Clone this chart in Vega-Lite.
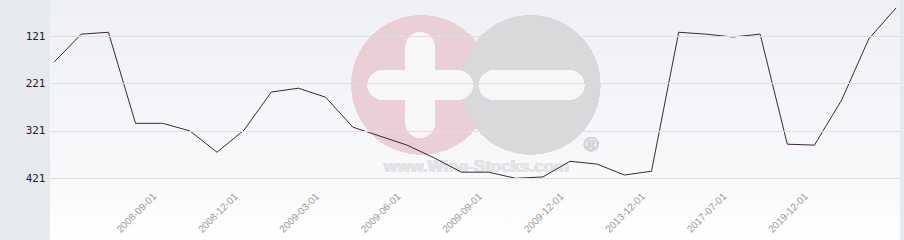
{
  "$schema": "https://vega.github.io/schema/vega-lite/v6.json",
  "autosize": "none",
  "width": 850,
  "height": 240,
  "padding": {"left": 50, "right": 4, "top": 0, "bottom": 0},
  "background": "#e7eaed",
  "config": {
    "view": {"stroke": null, "fill": {"gradient": "linear", "x1": 0, "y1": 0, "x2": 0, "y2": 1, "stops": [{"offset": 0, "color": "#eef0f5"}, {"offset": 0.75, "color": "#f9f9fb"}, {"offset": 1, "color": "#ffffff"}]}}
  },
  "data": {
    "values": [
      {"date": "2008-05-01", "rank": 176},
      {"date": "2008-06-01", "rank": 117},
      {"date": "2008-07-01", "rank": 113},
      {"date": "2008-08-01", "rank": 305},
      {"date": "2008-09-01", "rank": 305},
      {"date": "2008-10-01", "rank": 321},
      {"date": "2008-11-01", "rank": 366},
      {"date": "2008-12-01", "rank": 319},
      {"date": "2009-01-01", "rank": 239},
      {"date": "2009-02-01", "rank": 231},
      {"date": "2009-03-01", "rank": 250},
      {"date": "2009-04-01", "rank": 313},
      {"date": "2009-05-01", "rank": 332},
      {"date": "2009-06-01", "rank": 351},
      {"date": "2009-07-01", "rank": 378},
      {"date": "2009-08-01", "rank": 408},
      {"date": "2009-09-01", "rank": 408},
      {"date": "2009-10-01", "rank": 421},
      {"date": "2009-11-01", "rank": 418},
      {"date": "2009-12-01", "rank": 385},
      {"date": "2010-06-01", "rank": 391},
      {"date": "2012-06-01", "rank": 414},
      {"date": "2013-12-01", "rank": 406},
      {"date": "2014-12-01", "rank": 113},
      {"date": "2016-06-01", "rank": 117},
      {"date": "2017-07-01", "rank": 123},
      {"date": "2018-06-01", "rank": 117},
      {"date": "2019-06-01", "rank": 349},
      {"date": "2019-12-01", "rank": 351},
      {"date": "2020-12-01", "rank": 256},
      {"date": "2022-06-01", "rank": 127},
      {"date": "2023-12-01", "rank": 62}
    ]
  },
  "encoding": {
    "x": {
      "field": "date", "type": "ordinal", "sort": null,
      "scale": {"type": "point", "padding": 0.15,
        "domain": ["2008-05-01", "2008-06-01", "2008-07-01", "2008-08-01", "2008-09-01", "2008-10-01", "2008-11-01", "2008-12-01", "2009-01-01", "2009-02-01", "2009-03-01", "2009-04-01", "2009-05-01", "2009-06-01", "2009-07-01", "2009-08-01", "2009-09-01", "2009-10-01", "2009-11-01", "2009-12-01", "2010-06-01", "2012-06-01", "2013-12-01", "2014-12-01", "2016-06-01", "2017-07-01", "2018-06-01", "2019-06-01", "2019-12-01", "2020-12-01", "2022-06-01", "2023-12-01"]},
      "axis": {
        "title": null, "orient": "bottom", "offset": -50,
        "values": ["2008-09-01", "2008-12-01", "2009-03-01", "2009-06-01", "2009-09-01", "2009-12-01", "2013-12-01", "2017-07-01", "2019-12-01"],
        "labelAngle": -45, "labelFont": "Liberation Sans", "labelFontSize": 10, "labelColor": "#9a9a9a",
        "ticks": false, "domain": false, "grid": false, "labelPadding": 1, "labelOffset": -12
      }
    },
    "y": {
      "field": "rank", "type": "quantitative",
      "scale": {"domain": [45, 551], "reverse": true, "nice": false, "zero": false},
      "axis": {
        "title": null, "values": [121, 221, 321, 421], "zindex": 1,
        "domain": false, "ticks": false, "tickSize": 0, "labelPadding": 5,
        "labelFont": "DejaVu Sans Mono", "labelFontSize": 11, "labelColor": "#222222",
        "grid": true, "gridColor": "#dedede", "gridWidth": 1
      }
    }
  },
  "layer": [
    {"mark": {"type": "point", "filled": true, "size": 19300, "color": "#eacfd7", "opacity": 1}, "encoding": {"x": {"datum": "2009-06-01"}, "xOffset": {"value": 14}, "y": {"datum": 224}}},
    {"mark": {"type": "point", "filled": true, "size": 19300, "color": "#d9d9db", "opacity": 1}, "encoding": {"x": {"datum": "2009-10-01"}, "xOffset": {"value": 15}, "y": {"datum": 224}}},
    {"mark": {"type": "point", "filled": false, "shape": "M-1,0L1,0", "size": 5776, "stroke": "#f7f7fa", "strokeWidth": 29, "strokeCap": "round", "opacity": 1}, "encoding": {"x": {"datum": "2009-06-01"}, "xOffset": {"value": 13}, "y": {"datum": 224}}},
    {"mark": {"type": "point", "filled": false, "shape": "M0,-1L0,1", "size": 5776, "stroke": "#f7f7fa", "strokeWidth": 29, "strokeCap": "round", "opacity": 1}, "encoding": {"x": {"datum": "2009-06-01"}, "xOffset": {"value": 13}, "y": {"datum": 224}}},
    {"mark": {"type": "point", "filled": false, "shape": "M-1,0L1,0", "size": 5776, "stroke": "#f7f7fa", "strokeWidth": 29, "strokeCap": "round", "opacity": 1}, "encoding": {"x": {"datum": "2009-10-01"}, "xOffset": {"value": 16}, "y": {"datum": 224}}},
    {"mark": {"type": "text", "text": "www.Wine-Stocks.com", "font": "Liberation Sans", "fontWeight": "bold", "fontSize": 17, "color": "#e3e3e6", "align": "center", "baseline": "middle", "dx": -12}, "encoding": {"x": {"datum": "2009-09-01"}, "y": {"datum": 397}}},
    {"mark": {"type": "text", "text": "®", "font": "Liberation Sans", "fontWeight": "bold", "fontSize": 20, "color": "#d6d6d8", "align": "center", "baseline": "middle", "dx": -6}, "encoding": {"x": {"datum": "2010-06-01"}, "y": {"datum": 351}}},
    {"mark": {"type": "line", "color": "#3b2832", "strokeWidth": 1}}
  ]
}
